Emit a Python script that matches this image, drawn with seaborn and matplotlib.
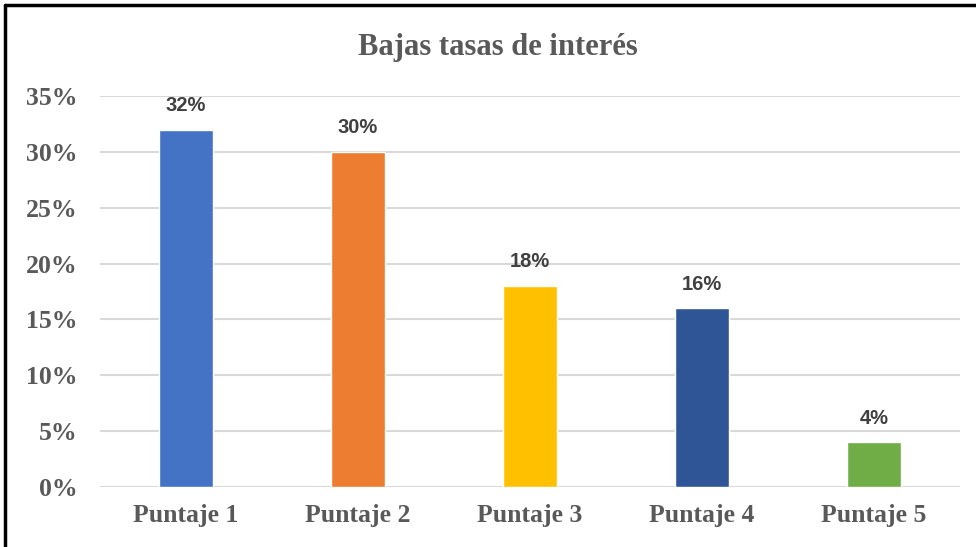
import matplotlib
matplotlib.use('Agg')
import matplotlib.pyplot as plt
import matplotlib.lines as mlines
import seaborn as sns
import pandas as pd

# chart data
categorias = ['Puntaje 1', 'Puntaje 2', 'Puntaje 3', 'Puntaje 4', 'Puntaje 5']
porcentajes = [0.32, 0.30, 0.18, 0.16, 0.04]
colores = ['#4472C4', '#ED7D31', '#FFC000', '#2F5597', '#70AD47']
ticks_y = [0, 0.05, 0.10, 0.15, 0.20, 0.25, 0.30, 0.35]
titulo = 'Bajas tasas de interés'

sns.set_theme(style='white')
plt.rcParams['font.family'] = ['Liberation Serif', 'DejaVu Serif']

df = pd.DataFrame({'cat': categorias, 'val': porcentajes})

fig = plt.figure(figsize=(9.76, 5.47), dpi=100)
ax = fig.add_axes([0.1025, 0.1097, 0.8811, 0.7148])

sns.barplot(data=df, x='cat', y='val', hue='cat', palette=colores,
            width=0.31, legend=False, ax=ax, zorder=3, saturation=1)

ax.set_ylim(0, 0.35)
ax.set_xlim(-0.5, len(categorias) - 0.5)
ax.set_yticks(ticks_y)
ax.set_yticklabels(['{:.0f}%'.format(t * 100) for t in ticks_y])
ax.grid(axis='y', color='#D9D9D9', lw=1.5, zorder=0)
ax.set_axisbelow(True)
for s in ax.spines.values():
    s.set_visible(False)
ax.tick_params(axis='both', length=0, colors='#595959', labelsize=18.5)
ax.tick_params(axis='y', pad=16)
ax.tick_params(axis='x', pad=12)
for lbl in ax.get_xticklabels() + ax.get_yticklabels():
    lbl.set_fontweight('bold')
ax.set_xlabel('')
ax.set_ylabel('')

# data labels
for i, v in enumerate(porcentajes):
    ax.annotate('{:.0f}%'.format(v * 100), (i, v), xytext=(0, 13.5),
                textcoords='offset points', ha='center', va='baseline',
                fontsize=14.5, fontweight='bold', color='#404040',
                family=['Liberation Sans', 'DejaVu Sans'])

fig.text(0.5 + 10 / 976, 1 - 47 / 547, titulo, ha='center', va='center',
         fontsize=22, fontweight='bold', color='#595959')

# frame lines (top and left visible)
fig.add_artist(mlines.Line2D([5 / 976, 1], [1 - 5 / 547, 1 - 5 / 547],
                             color='black', lw=2.5, transform=fig.transFigure))
fig.add_artist(mlines.Line2D([5 / 976, 5 / 976], [0, 1 - 5 / 547],
                             color='black', lw=2.5, transform=fig.transFigure))

fig.savefig('out.png', dpi=100, facecolor='white')
